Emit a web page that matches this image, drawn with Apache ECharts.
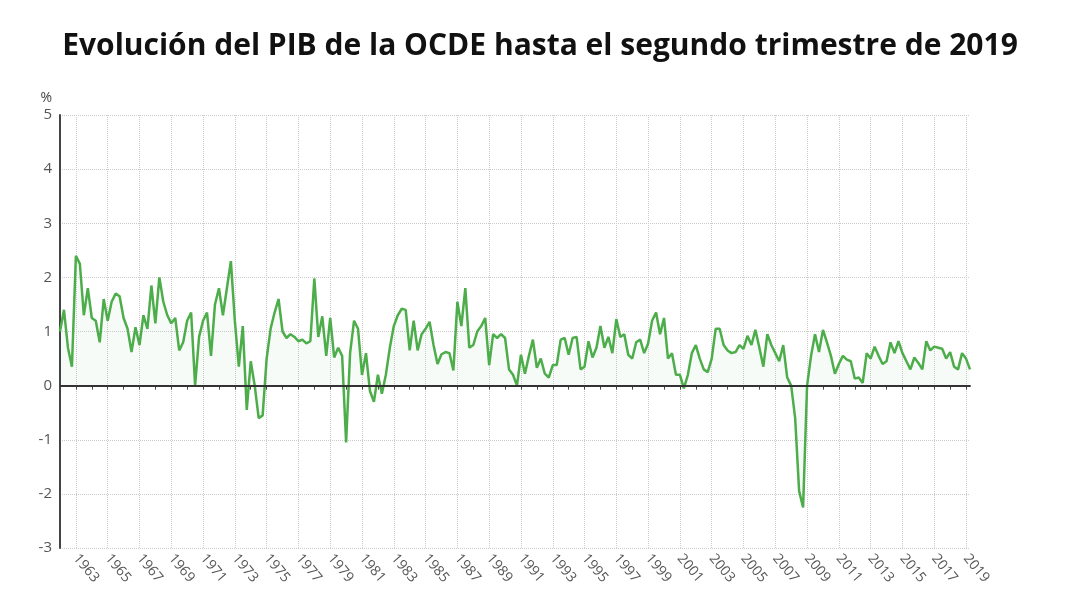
<!DOCTYPE html>
<html>
<head>
<meta charset="utf-8">
<script src="https://cdn.jsdelivr.net/npm/echarts@6/dist/echarts.min.js"></script>
<style>
  html, body { margin: 0; padding: 0; background: #fff; }
  #chart { width: 1080px; height: 607px; }
</style>
</head>
<body>
<div id="chart"></div>
<script>
// quarterly GDP growth, %
const part1 = [1.0, 1.4, 0.7, 0.35, 2.4, 2.25, 1.3, 1.8, 1.25, 1.2, 0.8, 1.6, 1.2, 1.55, 1.7, 1.65,
  1.25, 1.05, 0.62, 1.08, 0.75, 1.3, 1.05, 1.85, 1.15, 2.0, 1.55, 1.3, 1.15, 1.25, 0.65, 0.8,
  1.2, 1.35, 0.0, 0.9, 1.2, 1.35, 0.55, 1.5, 1.8, 1.3, 1.8, 2.3, 1.2, 0.35, 1.1, -0.45,
  0.45, 0.0, -0.6, -0.55, 0.5, 1.05, 1.35, 1.6, 1.0, 0.88, 0.95, 0.9, 0.82, 0.85, 0.78, 0.82,
  1.98, 0.9, 1.28, 0.55, 1.25, 0.52, 0.7, 0.55]
const part2 = [-1.05, 0.6, 1.2, 1.05, 0.2, 0.6, -0.1, -0.3, 0.2, -0.15, 0.2, 0.7, 1.1, 1.3, 1.42, 1.4,
  0.65, 1.2, 0.65, 0.95, 1.05, 1.18, 0.75, 0.4, 0.58, 0.62, 0.6, 0.28, 1.55, 1.1, 1.8, 0.7,
  0.75, 1.0, 1.1, 1.25, 0.38, 0.95, 0.88, 0.95, 0.88, 0.3, 0.2, 0.0, 0.57, 0.22, 0.55, 0.85,
  0.33, 0.5, 0.22, 0.15, 0.38, 0.38, 0.85, 0.88, 0.57, 0.88, 0.9, 0.3, 0.35, 0.82, 0.52, 0.7,
  1.1, 0.7, 0.9, 0.6, 1.23, 0.9, 0.95, 0.57, 0.5, 0.8, 0.85, 0.6, 0.78, 1.2, 1.35]
const part3 = [0.95, 1.25, 0.5, 0.6, 0.2, 0.2, -0.05, 0.2, 0.6, 0.75, 0.5, 0.3, 0.25, 0.5, 1.05, 1.05,
  0.75, 0.65, 0.6, 0.62, 0.75, 0.68, 0.92, 0.75, 1.03, 0.7, 0.35, 0.95, 0.75, 0.6, 0.45, 0.75,
  0.15, 0.0, -0.6, -1.95, -2.25, 0.0, 0.55, 0.95, 0.62, 1.03, 0.8, 0.55, 0.22, 0.4, 0.55, 0.48,
  0.45, 0.13, 0.15, 0.05, 0.6, 0.5, 0.72, 0.55, 0.4, 0.45, 0.8, 0.6, 0.82, 0.6, 0.45, 0.3,
  0.52, 0.42, 0.3, 0.82, 0.65, 0.72, 0.7, 0.68, 0.5, 0.62, 0.35, 0.3, 0.6, 0.5, 0.3]
const values = part1.concat(part2, part3)

// quarters counted back from 2019 Q2
const quarters = values.map((v, i) => {
  const q = 2019 * 4 + 1 - (values.length - 1 - i)
  return { year: Math.floor(q / 4), q: (q % 4) + 1 }
})
const categories = quarters.map(d => d.year + ' T' + d.q)
const lastCat = categories[categories.length - 1]
const lastLabel = 'Trimestre 2 2019'

const chart = echarts.init(document.getElementById('chart'))
chart.setOption({
  animation: false,
  backgroundColor: '#fff',
  title: {
    text: 'Evolución del PIB de la OCDE hasta el segundo trimestre de 2019',
    left: 'center', top: 26,
    textStyle: { fontFamily: 'Open Sans', fontWeight: 'bold', fontSize: 30, color: '#111' }
  },
  grid: { left: 60, right: 110, top: 115, bottom: 59 },
  xAxis: {
    type: 'category',
    data: categories,
    boundaryGap: false,
    axisLine: { lineStyle: { color: '#444', width: 2 } },
    axisTick: {
      show: true, length: 4, lineStyle: { color: '#444' },
      interval: (i) => quarters[i].q === 1 || i === values.length - 1
    },
    axisLabel: {
      rotate: -50, color: '#555', fontFamily: 'Open Sans', fontSize: 14, margin: 8,
      interval: (i) => (quarters[i].q === 1 && quarters[i].year % 2 === 1) || i === values.length - 1,
      formatter: (v) => v === lastCat ? lastLabel : v.slice(0, 4)
    },
    splitLine: {
      show: true,
      interval: (i) => quarters[i].q === 1 && quarters[i].year % 2 === 1,
      lineStyle: { color: '#ccc', type: 'dotted' }
    }
  },
  yAxis: {
    type: 'value', min: -3, max: 5, interval: 1,
    name: '%', nameGap: 10,
    nameTextStyle: { color: '#444', fontFamily: 'Open Sans', fontSize: 14, align: 'right', padding: [0, 8, 0, 0] },
    axisLine: { show: true, lineStyle: { color: '#444', width: 2 } },
    axisLabel: { color: '#555', fontFamily: 'Open Sans', fontSize: 15 },
    splitLine: { lineStyle: { color: '#ccc', type: 'dotted' } }
  },
  series: [{
    type: 'line',
    data: values,
    symbol: 'none',
    lineStyle: { color: '#4cad4a', width: 2.5 },
    areaStyle: { color: 'rgba(76,173,74,0.06)', origin: 0 },
    markLine: {
      silent: true, symbol: 'none', label: { show: false },
      lineStyle: { color: '#333', width: 2, type: 'solid' },
      data: [{ yAxis: 0 }]
    }
  }]
})
</script>
</body>
</html>
